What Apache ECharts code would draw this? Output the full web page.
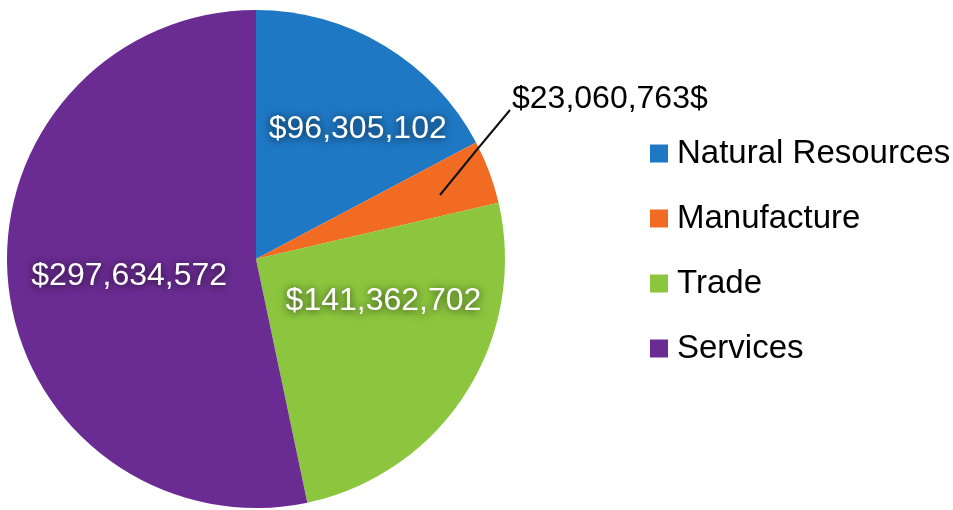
<!DOCTYPE html>
<html>
<head>
<meta charset="utf-8">
<script src="https://cdn.jsdelivr.net/npm/echarts@6/dist/echarts.min.js"></script>
<style>
  html, body { margin: 0; padding: 0; background: #fff; }
  #main { width: 953px; height: 510px; }
</style>
</head>
<body>
<div id="main"></div>
<script>
const categories = ['Natural Resources', 'Manufacture', 'Trade', 'Services']
const values = [96305102, 23060763, 141362702, 297634572]
const colors = ['#1f78c4', '#f26b22', '#8cc63e', '#6a2c92']
const labelSuffix = ['', '$', '', '']
// the one slice whose value sits outside with a leader line
const outsideIndex = 1

const FONT = '"Helvetica Neue", Helvetica, "Liberation Sans", Arial, sans-serif'

// nudges for the labels drawn on the slices (px from the default inner spot)
const insideNudge = { 0: [36, -21], 2: [20, -26], 3: [0, 4] }

const chart = echarts.init(document.getElementById('main'))

const fmt = (v, i) => '$' + v.toLocaleString('en-US') + labelSuffix[i]

const pieBase = {
  type: 'pie',
  center: [256, 259],
  radius: 249,
  startAngle: 90,
  clockwise: true,
  avoidLabelOverlap: false,
  silent: true,
  itemStyle: { borderWidth: 0 }
}

chart.setOption({
  animation: false,
  legend: {
    orient: 'vertical',
    left: 650,
    top: 137,
    padding: 0,
    itemWidth: 18,
    itemHeight: 18,
    itemGap: 32,
    icon: 'rect',
    selectedMode: false,
    data: categories,
    textStyle: {
      fontFamily: FONT,
      fontSize: 33,
      color: '#000',
      padding: [0, 0, 0, 4]
    }
  },
  series: [
    Object.assign({}, pieBase, {
      name: 'slices',
      data: categories.map((name, i) => ({
        name,
        value: values[i],
        itemStyle: { color: colors[i] },
        label: { show: i !== outsideIndex }
      })),
      label: {
        position: 'inside',
        fontFamily: FONT,
        fontSize: 32,
        color: '#fff',
        textShadowColor: 'rgba(0,0,0,0.75)',
        textShadowBlur: 8,
        textShadowOffsetY: 1,
        formatter: p => fmt(p.value, p.dataIndex)
      },
      labelLine: { show: false },
      labelLayout: params => {
        const n = insideNudge[params.dataIndex]
        return n ? { dx: n[0], dy: n[1] } : {}
      }
    }),
    // transparent copy on top, only for the outside label and its leader line
    Object.assign({}, pieBase, {
      name: 'callout',
      z: 5,
      data: categories.map((name, i) => ({
        name,
        value: values[i],
        itemStyle: { color: 'rgba(0,0,0,0)' },
        label: { show: i === outsideIndex },
        labelLine: { show: i === outsideIndex }
      })),
      label: {
        position: 'outside',
        fontFamily: FONT,
        fontSize: 32,
        color: '#000',
        formatter: p => fmt(p.value, p.dataIndex)
      },
      labelLine: { length: 30, length2: 0, lineStyle: { color: '#111', width: 2 } },
      labelLayout: params => {
        if (params.dataIndex !== outsideIndex) return {}
        const r = params.labelRect
        return {
          dx: 512 - r.x,
          dy: 99 - r.height / 2 - r.y,
          labelLinePoints: [[440, 195], [475, 152], [510, 110]]
        }
      }
    })
  ]
})
</script>
</body>
</html>
